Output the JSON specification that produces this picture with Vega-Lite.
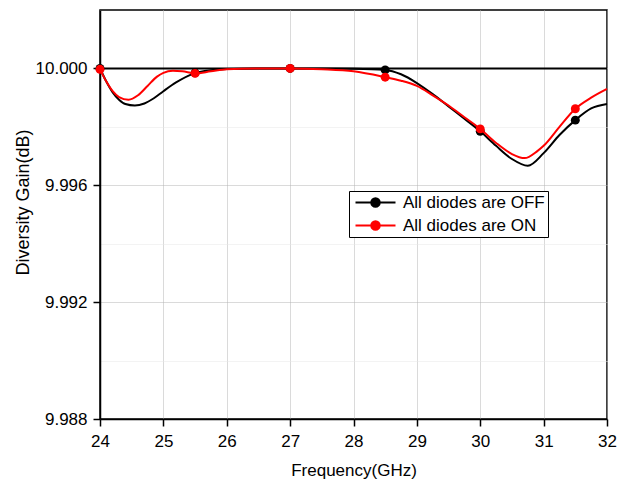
{
  "$schema": "https://vega.github.io/schema/vega-lite/v6.json",
  "width": 507,
  "height": 409,
  "autosize": {"type": "none"},
  "padding": {"left": 100, "top": 10, "right": 11, "bottom": 64},
  "background": "white",
  "config": {
    "font": "Liberation Sans",
    "view": {"stroke": "black", "strokeWidth": 1.5}
  },
  "datasets": {
    "curves": [
      {"series": "All diodes are OFF", "freq": 24.0, "gain": 10.00000},
      {"series": "All diodes are OFF", "freq": 24.1, "gain": 9.99955},
      {"series": "All diodes are OFF", "freq": 24.2, "gain": 9.99918},
      {"series": "All diodes are OFF", "freq": 24.3, "gain": 9.99893},
      {"series": "All diodes are OFF", "freq": 24.4, "gain": 9.99878},
      {"series": "All diodes are OFF", "freq": 24.55, "gain": 9.99873},
      {"series": "All diodes are OFF", "freq": 24.7, "gain": 9.99880},
      {"series": "All diodes are OFF", "freq": 24.85, "gain": 9.99898},
      {"series": "All diodes are OFF", "freq": 25.0, "gain": 9.99922},
      {"series": "All diodes are OFF", "freq": 25.2, "gain": 9.99952},
      {"series": "All diodes are OFF", "freq": 25.5, "gain": 9.99984},
      {"series": "All diodes are OFF", "freq": 25.75, "gain": 9.99994},
      {"series": "All diodes are OFF", "freq": 26.0, "gain": 9.99998},
      {"series": "All diodes are OFF", "freq": 26.5, "gain": 10.00000},
      {"series": "All diodes are OFF", "freq": 27.0, "gain": 10.00000},
      {"series": "All diodes are OFF", "freq": 27.5, "gain": 10.00000},
      {"series": "All diodes are OFF", "freq": 28.0, "gain": 9.99999},
      {"series": "All diodes are OFF", "freq": 28.5, "gain": 9.99995},
      {"series": "All diodes are OFF", "freq": 28.75, "gain": 9.99980},
      {"series": "All diodes are OFF", "freq": 29.0, "gain": 9.99950},
      {"series": "All diodes are OFF", "freq": 29.25, "gain": 9.99912},
      {"series": "All diodes are OFF", "freq": 29.5, "gain": 9.99870},
      {"series": "All diodes are OFF", "freq": 29.75, "gain": 9.99828},
      {"series": "All diodes are OFF", "freq": 30.0, "gain": 9.99785},
      {"series": "All diodes are OFF", "freq": 30.25, "gain": 9.99735},
      {"series": "All diodes are OFF", "freq": 30.5, "gain": 9.99690},
      {"series": "All diodes are OFF", "freq": 30.75, "gain": 9.99667},
      {"series": "All diodes are OFF", "freq": 31.0, "gain": 9.99710},
      {"series": "All diodes are OFF", "freq": 31.25, "gain": 9.99772},
      {"series": "All diodes are OFF", "freq": 31.5, "gain": 9.99823},
      {"series": "All diodes are OFF", "freq": 31.75, "gain": 9.99863},
      {"series": "All diodes are OFF", "freq": 32.0, "gain": 9.99878},
      {"series": "All diodes are ON", "freq": 24.0, "gain": 9.99997},
      {"series": "All diodes are ON", "freq": 24.1, "gain": 9.99955},
      {"series": "All diodes are ON", "freq": 24.2, "gain": 9.99922},
      {"series": "All diodes are ON", "freq": 24.3, "gain": 9.99902},
      {"series": "All diodes are ON", "freq": 24.45, "gain": 9.99893},
      {"series": "All diodes are ON", "freq": 24.6, "gain": 9.99908},
      {"series": "All diodes are ON", "freq": 24.75, "gain": 9.99940},
      {"series": "All diodes are ON", "freq": 24.9, "gain": 9.99972},
      {"series": "All diodes are ON", "freq": 25.0, "gain": 9.99985},
      {"series": "All diodes are ON", "freq": 25.15, "gain": 9.99992},
      {"series": "All diodes are ON", "freq": 25.3, "gain": 9.99990},
      {"series": "All diodes are ON", "freq": 25.5, "gain": 9.99983},
      {"series": "All diodes are ON", "freq": 25.75, "gain": 9.99990},
      {"series": "All diodes are ON", "freq": 26.0, "gain": 9.99997},
      {"series": "All diodes are ON", "freq": 26.5, "gain": 10.00000},
      {"series": "All diodes are ON", "freq": 27.0, "gain": 10.00000},
      {"series": "All diodes are ON", "freq": 27.5, "gain": 9.99997},
      {"series": "All diodes are ON", "freq": 28.0, "gain": 9.99990},
      {"series": "All diodes are ON", "freq": 28.5, "gain": 9.99970},
      {"series": "All diodes are ON", "freq": 28.75, "gain": 9.99958},
      {"series": "All diodes are ON", "freq": 29.0, "gain": 9.99940},
      {"series": "All diodes are ON", "freq": 29.25, "gain": 9.99908},
      {"series": "All diodes are ON", "freq": 29.5, "gain": 9.99873},
      {"series": "All diodes are ON", "freq": 29.75, "gain": 9.99833},
      {"series": "All diodes are ON", "freq": 30.0, "gain": 9.99793},
      {"series": "All diodes are ON", "freq": 30.25, "gain": 9.99745},
      {"series": "All diodes are ON", "freq": 30.5, "gain": 9.99707},
      {"series": "All diodes are ON", "freq": 30.7, "gain": 9.99693},
      {"series": "All diodes are ON", "freq": 30.9, "gain": 9.99717},
      {"series": "All diodes are ON", "freq": 31.0, "gain": 9.99735},
      {"series": "All diodes are ON", "freq": 31.25, "gain": 9.99800},
      {"series": "All diodes are ON", "freq": 31.5, "gain": 9.99862},
      {"series": "All diodes are ON", "freq": 31.75, "gain": 9.99900},
      {"series": "All diodes are ON", "freq": 32.0, "gain": 9.99930}
    ],
    "markers": [
      {"series": "All diodes are OFF", "freq": 24.0, "gain": 10.00000},
      {"series": "All diodes are OFF", "freq": 25.5, "gain": 9.99985},
      {"series": "All diodes are OFF", "freq": 27.0, "gain": 10.00000},
      {"series": "All diodes are OFF", "freq": 28.5, "gain": 9.99995},
      {"series": "All diodes are OFF", "freq": 30.0, "gain": 9.99785},
      {"series": "All diodes are OFF", "freq": 31.5, "gain": 9.99823},
      {"series": "All diodes are ON", "freq": 24.0, "gain": 9.99997},
      {"series": "All diodes are ON", "freq": 25.5, "gain": 9.99983},
      {"series": "All diodes are ON", "freq": 27.0, "gain": 10.00000},
      {"series": "All diodes are ON", "freq": 28.5, "gain": 9.99970},
      {"series": "All diodes are ON", "freq": 30.0, "gain": 9.99793},
      {"series": "All diodes are ON", "freq": 31.5, "gain": 9.99862}
    ],
    "ref": [{"level": 10.0}]
  },
  "layer": [
    {
      "data": {"name": "ref"},
      "mark": {"type": "rule", "color": "black", "strokeWidth": 2},
      "encoding": {
        "y": {
          "field": "level",
          "type": "quantitative",
          "scale": {"domain": [9.988, 10.002], "nice": false, "zero": false},
          "axis": {
            "title": "Diversity Gain(dB)",
            "values": [9.988, 9.99, 9.992, 9.994, 9.996, 9.998, 10.0],
            "labelExpr": "round(datum.value * 1000) % 4 === 0 ? format(datum.value, '.3f') : ''",
            "labelFlush": false,
            "grid": true,
            "gridDash": [1, 1],
            "gridColor": {"condition": {"test": "round(datum.value * 1000) % 4 === 0", "value": "#b4b4b4"}, "value": "#e6e6e6"},
            "gridWidth": 1,
            "tickColor": {"condition": {"test": "round(datum.value * 1000) % 4 === 0", "value": "black"}, "value": "transparent"},
            "tickSize": 7,
            "tickWidth": 1.5,
            "domainColor": "black",
            "domainWidth": 1.5,
            "labelFont": "Liberation Sans",
            "labelFontSize": 17,
            "labelColor": "black",
            "labelPadding": 6,
            "titleFont": "Liberation Sans",
            "titleFontSize": 18,
            "titleFontWeight": "normal",
            "titleColor": "black",
            "titlePadding": 3,
            "titleY": 192
          }
        }
      }
    },
    {
      "data": {"name": "curves"},
      "transform": [{"filter": "datum.series === 'All diodes are OFF'"}],
      "mark": {"type": "line", "interpolate": "monotone", "strokeWidth": 2},
      "encoding": {
        "x": {
          "field": "freq",
          "type": "quantitative",
          "scale": {"domain": [24, 32], "nice": false, "zero": false},
          "axis": {
            "title": "Frequency(GHz)",
            "values": [24, 24.5, 25, 25.5, 26, 26.5, 27, 27.5, 28, 28.5, 29, 29.5, 30, 30.5, 31, 31.5, 32],
            "labelExpr": "datum.value % 1 === 0 ? format(datum.value, 'd') : ''",
            "labelFlush": false,
            "grid": true,
            "gridDash": [1, 1],
            "gridColor": {"condition": {"test": "datum.value % 1 === 0", "value": "#b4b4b4"}, "value": "#e6e6e6"},
            "gridWidth": 1,
            "tickColor": {"condition": {"test": "datum.value % 1 === 0", "value": "black"}, "value": "transparent"},
            "tickSize": 7,
            "tickWidth": 1.5,
            "domainColor": "black",
            "domainWidth": 1.5,
            "labelFont": "Liberation Sans",
            "labelFontSize": 17,
            "labelColor": "black",
            "labelPadding": 7,
            "titleFont": "Liberation Sans",
            "titleFontSize": 17,
            "titleFontWeight": "normal",
            "titleColor": "black",
            "titlePadding": 13
          }
        },
        "y": {"field": "gain", "type": "quantitative"},
        "color": {
          "field": "series",
          "type": "nominal",
          "scale": {"domain": ["All diodes are OFF", "All diodes are ON"], "range": ["#000000", "#ff0000"]},
          "legend": {
            "title": null,
            "orient": "none",
            "legendX": 249,
            "legendY": 181,
            "strokeColor": "black",
            "fillColor": "white",
            "padding": 3,
            "cornerRadius": 0,
            "rowPadding": 5,
            "labelFont": "Liberation Sans",
            "labelFontSize": 17,
            "labelColor": "black",
            "labelOffset": 34,
            "symbolSize": 100,
            "symbolType": "M-1,0L7,0M3.85,0A0.85,0.85,0,1,1,2.15,0A0.85,0.85,0,1,1,3.85,0Z",
            "symbolStrokeWidth": 2,
            "encode": {
              "symbols": {
                "update": {
                  "fill": {"scale": "color", "field": "value"},
                  "stroke": {"scale": "color", "field": "value"}
                }
              }
            }
          }
        }
      }
    },
    {
      "data": {"name": "markers"},
      "transform": [{"filter": "datum.series === 'All diodes are OFF'"}],
      "mark": {"type": "point", "shape": "circle", "filled": true, "size": 80, "opacity": 1},
      "encoding": {
        "x": {"field": "freq", "type": "quantitative"},
        "y": {"field": "gain", "type": "quantitative"},
        "color": {"field": "series", "type": "nominal"}
      }
    },
    {
      "data": {"name": "curves"},
      "transform": [{"filter": "datum.series === 'All diodes are ON'"}],
      "mark": {"type": "line", "interpolate": "monotone", "strokeWidth": 2},
      "encoding": {
        "x": {"field": "freq", "type": "quantitative"},
        "y": {"field": "gain", "type": "quantitative"},
        "color": {"field": "series", "type": "nominal"}
      }
    },
    {
      "data": {"name": "markers"},
      "transform": [{"filter": "datum.series === 'All diodes are ON'"}],
      "mark": {"type": "point", "shape": "circle", "filled": true, "size": 80, "opacity": 1},
      "encoding": {
        "x": {"field": "freq", "type": "quantitative"},
        "y": {"field": "gain", "type": "quantitative"},
        "color": {"field": "series", "type": "nominal"}
      }
    }
  ]
}
